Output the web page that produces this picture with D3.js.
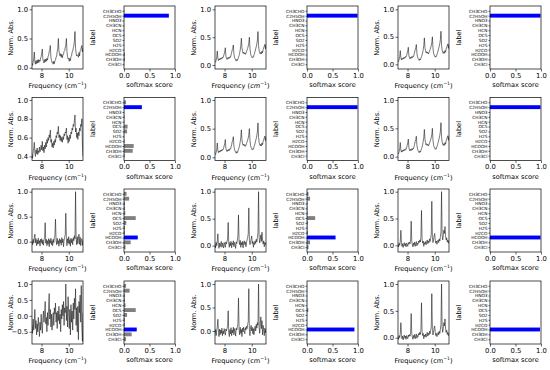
<!DOCTYPE html>
<html>
<head>
<meta charset="utf-8">
<script src="https://cdn.jsdelivr.net/npm/d3@7"></script>
<style>
body{margin:0;background:#fff;}
text{font-family:"DejaVu Sans",sans-serif;fill:#000;}
.frame{fill:none;stroke:#000;stroke-width:0.7;}
.tick line{stroke:#000;stroke-width:0.6;}
.spec{fill:none;stroke:#1c1c1c;stroke-width:0.6;stroke-linejoin:round;}
</style>
</head>
<body>
<script>
(function(){

//labels on the bar charts, top to bottom
var labels = ["CH3CHO","C2H5OH","HNO3","CH3CN","HCN","OCS","SO2","H2S","H2CO","HCOOH","CH3OH","CH3Cl"];

//frequency range of the spectra (cm-1)
var fMin = 7.3, fMax = 11.05;

//spectra (90 samples each)
var ethA = [0.07,0.04,0.10,0.15,0.27,0.10,0.06,0.12,0.07,0.13,0.08,0.14,0.09,0.13,0.11,0.17,0.19,0.25,0.32,
    0.14,0.11,0.08,0.14,0.10,0.15,0.11,0.16,0.13,0.19,0.21,0.28,0.31,0.38,
    0.18,0.12,0.09,0.10,0.06,0.11,0.07,0.12,0.13,0.18,0.20,0.28,0.33,0.50,
    0.29,0.23,0.20,0.24,0.18,0.23,0.17,0.22,0.23,0.28,0.29,0.35,0.38,0.50,
    0.28,0.19,0.15,0.16,0.11,0.16,0.12,0.19,0.20,0.27,0.28,0.34,0.37,0.46,0.62,
    0.33,0.25,0.20,0.22,0.21,0.18,0.26,0.20,0.29,0.30,0.35,0.38,0.27,0.34];

var ethB = [0.06,0.05,0.09,0.14,0.25,0.12,0.08,0.11,0.09,0.12,0.10,0.13,0.11,0.14,0.13,0.16,0.20,0.24,0.31,
    0.16,0.12,0.10,0.13,0.11,0.14,0.12,0.15,0.14,0.18,0.22,0.27,0.30,0.36,
    0.20,0.14,0.11,0.09,0.07,0.10,0.08,0.11,0.14,0.17,0.21,0.27,0.34,0.48,
    0.31,0.25,0.21,0.23,0.20,0.22,0.19,0.21,0.24,0.27,0.30,0.34,0.39,0.50,
    0.30,0.21,0.17,0.15,0.13,0.15,0.14,0.18,0.21,0.25,0.29,0.33,0.38,0.45,0.60,
    0.35,0.26,0.22,0.20,0.23,0.20,0.25,0.22,0.28,0.31,0.34,0.37,0.29,0.36];

var ethNoisy = [0.42,0.38,0.45,0.48,0.55,0.44,0.40,0.47,0.43,0.49,0.42,0.46,0.44,0.50,0.45,0.48,0.52,0.47,0.56,
    0.46,0.50,0.44,0.52,0.48,0.55,0.50,0.58,0.54,0.60,0.57,0.63,0.60,0.68,
    0.55,0.58,0.50,0.54,0.49,0.56,0.52,0.58,0.55,0.62,0.60,0.66,0.64,0.72,
    0.60,0.63,0.57,0.62,0.56,0.60,0.55,0.61,0.58,0.64,0.62,0.66,0.65,0.70,
    0.58,0.62,0.54,0.60,0.56,0.63,0.59,0.66,0.64,0.70,0.68,0.74,0.72,0.78,0.84,
    0.66,0.70,0.60,0.65,0.58,0.66,0.62,0.70,0.67,0.74,0.72,0.80,0.52,0.40];

var forNoisy = [0.02,-0.06,0.05,-0.03,0.08,0.15,-0.02,0.06,-0.08,0.03,
    -0.05,0.07,-0.04,0.02,-0.09,0.05,-0.02,0.06,-0.05,0.03,
    -0.07,0.04,0.08,0.38,-0.03,0.05,-0.08,0.02,-0.05,0.06,
    -0.10,0.04,-0.03,0.07,-0.06,0.02,-0.08,0.05,-0.02,0.08,
    0.12,0.45,0.03,-0.06,0.07,-0.04,0.02,-0.09,0.06,-0.03,
    0.04,-0.07,0.08,-0.02,0.05,-0.10,0.03,0.09,0.14,0.57,
    0.05,-0.08,0.06,-0.03,0.10,-0.05,0.04,-0.09,0.07,-0.02,
    0.05,-0.06,0.08,0.02,0.12,0.06,1.00,0.08,-0.06,0.10,
    -0.04,0.07,0.15,-0.05,0.09,-0.08,0.04,0.06,-0.07,0.03];

var forVeryNoisy = [-0.30,-0.55,-0.10,-0.45,-0.20,0.20,-0.40,-0.15,-0.60,-0.25,
    -0.50,-0.05,-0.35,-0.65,-0.20,-0.45,0.05,-0.30,-0.55,-0.10,
    0.15,-0.20,0.05,0.45,-0.25,-0.05,-0.50,0.10,-0.30,0.30,
    0.70,-0.10,0.20,-0.35,0.05,-0.45,-0.15,0.10,-0.30,0.25,
    0.05,0.40,-0.20,0.10,-0.40,0.15,-0.15,0.30,-0.25,0.05,
    -0.50,0.20,-0.10,0.35,0.00,0.45,-0.30,0.25,0.10,1.00,
    -0.15,0.30,-0.35,0.60,0.10,-0.40,0.20,-0.60,0.35,-0.20,
    0.15,-0.45,0.40,-0.10,0.55,0.20,0.85,-0.30,0.25,-0.50,
    0.30,-0.75,0.45,0.10,0.65,-0.20,0.95,-0.40,-0.80,0.10];

var forC = [0.03,-0.04,0.06,0.00,0.09,0.22,0.02,-0.05,0.05,-0.02,
    0.04,0.08,-0.03,0.05,0.01,-0.04,0.06,0.02,-0.03,0.07,
    0.03,0.08,0.12,0.43,0.05,-0.03,0.06,0.00,0.08,-0.04,
    0.05,0.02,0.09,-0.02,0.06,0.03,-0.05,0.07,0.04,0.10,
    0.18,0.57,0.08,0.02,0.10,-0.03,0.06,0.01,0.08,-0.04,
    0.05,0.09,0.02,0.07,-0.02,0.06,0.11,0.15,0.22,0.70,
    0.10,0.02,0.07,0.12,0.18,0.04,0.08,-0.03,0.06,0.02,
    0.09,0.04,0.12,0.07,0.15,0.24,1.00,0.16,0.05,0.12,
    0.20,0.08,0.25,0.10,0.03,0.09,-0.02,0.06,0.02,0.05];

var forD = [-0.05,0.03,-0.10,0.02,0.08,0.25,-0.03,-0.12,0.04,-0.08,
    0.02,-0.05,0.06,-0.10,0.00,-0.06,0.05,-0.02,-0.09,0.04,
    0.00,0.06,0.10,0.43,-0.04,-0.12,0.03,-0.06,0.07,-0.10,
    0.02,-0.04,0.08,-0.08,0.05,0.00,-0.11,0.06,0.02,0.09,
    0.15,0.70,0.04,-0.08,0.08,-0.05,0.03,-0.12,0.06,-0.02,
    0.08,0.00,-0.06,0.07,0.02,0.10,0.05,0.14,0.20,0.90,
    0.02,-0.10,0.06,0.12,0.00,0.08,-0.06,0.05,-0.08,0.04,
    0.10,0.00,0.14,0.06,0.18,0.12,1.00,0.08,-0.05,0.15,
    0.30,0.05,0.22,-0.08,0.12,0.02,-0.10,0.06,-0.04,0.03];

var forE = [0.02,-0.03,0.04,0.00,0.08,0.28,0.06,-0.02,0.03,-0.04,
    0.02,0.05,-0.01,0.03,-0.03,0.04,0.01,-0.02,0.05,0.02,
    0.06,0.03,0.10,0.45,0.08,0.02,-0.03,0.04,0.00,0.06,
    -0.02,0.03,0.07,-0.01,0.04,0.02,0.08,0.05,0.10,0.06,
    0.15,0.65,0.12,0.04,0.08,-0.02,0.05,0.02,0.07,0.01,
    0.06,0.10,0.03,0.08,0.05,0.12,0.07,0.14,0.20,0.82,
    0.15,0.05,0.10,0.18,0.22,0.10,0.04,0.08,0.02,0.06,
    0.10,0.05,0.12,0.08,0.16,0.25,1.00,0.20,0.10,0.18,
    0.28,0.22,0.35,0.18,0.10,0.14,0.06,0.10,0.04,0.08];

//softmax scores per panel, same order as labels
var s11 = [0.005,0.88,0.003,0.004,0.003,0.006,0.004,0.003,0.004,0.02,0.02,0.005];
var s12 = [0.001,0.99,0.001,0.001,0.001,0.001,0.001,0.001,0.001,0.002,0.002,0.001];
var s13 = [0.001,0.99,0.001,0.001,0.001,0.001,0.001,0.001,0.001,0.002,0.002,0.001];
var s21 = [0.04,0.35,0.006,0.012,0.008,0.07,0.06,0.006,0.012,0.19,0.17,0.015];
var s22 = [0.002,0.99,0.001,0.001,0.001,0.001,0.001,0.001,0.001,0.002,0.002,0.001];
var s23 = [0.002,0.99,0.001,0.001,0.001,0.001,0.001,0.001,0.001,0.002,0.002,0.001];
var s31 = [0.05,0.10,0.02,0.02,0.025,0.23,0.045,0.02,0.02,0.27,0.13,0.03];
var s32 = [0.03,0.06,0.012,0.012,0.015,0.16,0.02,0.012,0.02,0.56,0.06,0.03];
var s33 = [0.001,0.001,0.001,0.001,0.001,0.002,0.001,0.001,0.001,0.99,0.002,0.001];
var s41 = [0.04,0.11,0.02,0.02,0.03,0.23,0.06,0.02,0.02,0.25,0.15,0.04];
var s42 = [0.003,0.004,0.003,0.003,0.003,0.025,0.003,0.003,0.003,0.93,0.005,0.003];
var s43 = [0.001,0.001,0.001,0.001,0.001,0.002,0.001,0.001,0.001,0.98,0.003,0.001];

var xTicks = [8, 10];
var barTicks = [0, 0.5, 1];

//panel grid: spectrum, its y range and ticks, and the scores
var panels = [
    [ {spec: ethA, dom: [-0.022, 1.057], ticks: [0, 0.5, 1], sc: s11},
      {spec: ethB, dom: [-0.072, 1.06], ticks: [0, 0.5, 1], sc: s12, italic: true},
      {spec: ethB, dom: [-0.085, 1.06], ticks: [0, 0.5, 1], sc: s13} ],
    [ {spec: ethNoisy, dom: [0.357, 1.026], ticks: [0.4, 0.6, 0.8, 1.0], sc: s21},
      {spec: ethB, dom: [-0.056, 1.044], ticks: [0, 0.5, 1], sc: s22},
      {spec: ethB, dom: [-0.067, 1.044], ticks: [0, 0.5, 1], sc: s23} ],
    [ {spec: forNoisy, dom: [-0.206, 1.054], ticks: [0, 0.5, 1], sc: s31},
      {spec: forC, dom: [-0.117, 1.05], ticks: [0, 0.5, 1], sc: s32},
      {spec: forE, dom: [-0.125, 1.05], ticks: [0, 0.5, 1], sc: s33} ],
    [ {spec: forVeryNoisy, dom: [-0.885, 1.094], ticks: [-0.5, 0, 0.5, 1], sc: s41},
      {spec: forD, dom: [-0.277, 1.064], ticks: [0, 0.5, 1], sc: s42},
      {spec: forE, dom: [-0.117, 1.056], ticks: [0, 0.5, 1], sc: s43} ]
];

//layout
var W = 550, H = 370;
var rowTop = [6, 97.5, 189, 281], axH = 63;
var specLeft = [32, 215, 398], barLeft = [124, 307, 490], axW = 51;
var tickFont = 6.8, labFont = 6.6, catFont = 4.3;

var svg = d3.select("body").append("svg")
    .attr("width", W)
    .attr("height", H);

svg.append("rect").attr("width", W).attr("height", H).attr("fill", "#fff");

var clipN = 0;

panels.forEach(function(row, r){
    row.forEach(function(p, c){
        drawSpectrum(specLeft[c], rowTop[r], p);
        drawBars(barLeft[c], rowTop[r], p.sc);
    });
});

function styleAxis(g, size){
    g.select(".domain").remove();
    g.selectAll(".tick text").style("font-size", size + "px").style("font-family", "DejaVu Sans");
}

function drawSpectrum(left, top, p){
    var g = svg.append("g").attr("transform", "translate(" + left + "," + top + ")");

    var freq = p.spec.map(function(d, i){ return fMin + i * (fMax - fMin) / (p.spec.length - 1); });

    var x = d3.scaleLinear().domain([fMin, fMax]).range([0, axW]);
    var y = d3.scaleLinear().domain(p.dom).range([axH, 0]);

    var id = "clip" + (clipN++);
    g.append("clipPath").attr("id", id)
        .append("rect").attr("width", axW).attr("height", axH);

    var line = d3.line()
        .x(function(d, i){ return x(freq[i]); })
        .y(function(d){ return y(d); });

    g.append("path")
        .datum(p.spec)
        .attr("class", "spec")
        .attr("clip-path", "url(#" + id + ")")
        .attr("d", line);

    g.append("g")
        .attr("transform", "translate(0," + axH + ")")
        .call(d3.axisBottom(x).tickValues(xTicks).tickFormat(d3.format("d")).tickSize(2.5).tickPadding(1.5))
        .call(styleAxis, tickFont);

    g.append("g")
        .call(d3.axisLeft(y).tickValues(p.ticks).tickFormat(d3.format(".1f")).tickSize(2.5).tickPadding(1.5))
        .call(styleAxis, tickFont);

    g.append("rect").attr("class", "frame").attr("width", axW).attr("height", axH);

    //x label with superscript
    var xl = g.append("text")
        .attr("x", axW / 2)
        .attr("y", axH + 19)
        .attr("text-anchor", "middle")
        .style("font-size", labFont + "px")
        .text("Frequency (");
    xl.append("tspan").style("font-style", p.italic ? "italic" : "normal").text("cm");
    xl.append("tspan").attr("dy", -2.6).style("font-size", (labFont * 0.7) + "px").text("\u22121");
    xl.append("tspan").attr("dy", 2.6).text(")");

    g.append("text")
        .attr("transform", "translate(-19," + (axH / 2) + ") rotate(-90)")
        .attr("text-anchor", "middle")
        .style("font-size", labFont + "px")
        .text("Norm. Abs.");
}

function drawBars(left, top, scores){
    var g = svg.append("g").attr("transform", "translate(" + left + "," + top + ")");

    var x = d3.scaleLinear().domain([0, 1]).range([0, axW]);
    var y = d3.scaleLinear().domain([-0.99, 11.99]).range([0, axH]);

    var best = d3.maxIndex(scores);

    g.selectAll(".bar")
        .data(scores)
        .enter()
        .append("rect")
        .attr("class", "bar")
        .attr("x", x(0))
        .attr("y", function(d, i){ return y(i - 0.4); })
        .attr("width", function(d){ return x(d) - x(0); })
        .attr("height", function(d, i){ return y(i + 0.4) - y(i - 0.4); })
        .style("fill", function(d, i){ return i === best ? "#0000ff" : "#808080"; });

    g.append("g")
        .attr("transform", "translate(0," + axH + ")")
        .call(d3.axisBottom(x).tickValues(barTicks).tickFormat(d3.format(".1f")).tickSize(2.5).tickPadding(1.5))
        .call(styleAxis, tickFont);

    g.append("g")
        .call(d3.axisLeft(y).tickValues(d3.range(labels.length)).tickFormat(function(i){ return labels[i]; }).tickSize(1.5).tickPadding(1))
        .call(styleAxis, catFont);

    g.append("rect").attr("class", "frame").attr("width", axW).attr("height", axH);

    g.append("text")
        .attr("x", axW / 2)
        .attr("y", axH + 18)
        .attr("text-anchor", "middle")
        .style("font-size", labFont + "px")
        .text("softmax score");

    g.append("text")
        .attr("transform", "translate(-29," + (axH / 2) + ") rotate(-90)")
        .attr("text-anchor", "middle")
        .style("font-size", labFont + "px")
        .text("label");
}

})();
</script>
</body>
</html>
